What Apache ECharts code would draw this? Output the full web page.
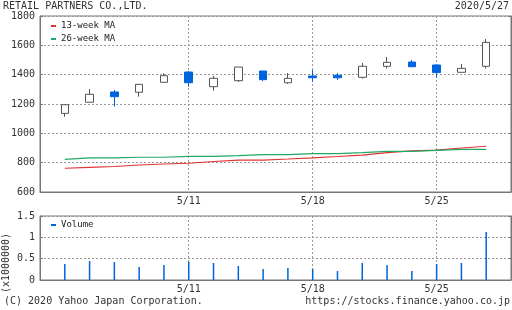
<!DOCTYPE html>
<html>
<head>
<meta charset="utf-8">
<script src="https://cdn.jsdelivr.net/npm/echarts@6/dist/echarts.min.js"></script>
<style>html,body{margin:0;padding:0;background:#fff}#c{width:512px;height:310px}</style>
</head>
<body>
<div id="c"></div>
<script>
var dates = ['4/28','4/30','5/1','5/7','5/8','5/11','5/12','5/13','5/14','5/15','5/18','5/19','5/20','5/21','5/22','5/25','5/26','5/27'];
var tickLabels = ['5/11','5/18','5/25'];
var opens  = [1136,1212,1282,1280,1348,1418,1318,1359,1425,1345,1391,1396,1382,1457,1486,1466,1416,1457];
var closes = [1195,1266,1250,1334,1393,1345,1375,1452,1366,1375,1379,1379,1457,1484,1454,1414,1443,1620];
var lows   = [1113,1212,1182,1250,1348,1318,1291,1350,1357,1338,1352,1364,1373,1441,1454,1382,1416,1441];
var highs  = [1195,1302,1295,1334,1409,1425,1391,1452,1425,1411,1432,1411,1480,1520,1500,1473,1473,1643];
var ma13   = [762,768,774,784,791,796,808,818,818,825,833,842,852,869,880,886,900,912];
var ma26   = [823,832,832,837,837,843,843,848,855,855,862,862,869,877,877,884,891,891];
var volume = [0.375,0.445,0.42,0.305,0.35,0.43,0.40,0.33,0.26,0.28,0.26,0.21,0.40,0.35,0.21,0.375,0.40,1.125];
var priceTicks = {min:600, max:1800, interval:200};
var volTicks = {min:0, max:1.5, interval:0.5};

var cats = [''].concat(dates, ['']);
function pad(a){ return ['-'].concat(a, ['-']); }
var candles = ['-'];
for (var i = 0; i < dates.length; i++) candles.push([opens[i], closes[i], lows[i], highs[i]]);
candles.push('-');

var FONT = 'DejaVu Sans Mono';
var TXT = '#333';
var AX = '#777';
var GRIDC = '#999';
var BLUE = '#0064dc';
function isTick(idx, val){ return tickLabels.indexOf(val) >= 0; }
function plain(v){ return String(v); }

function xAx(gi){
  return {
    type:'category', gridIndex:gi, data:cats, boundaryGap:false,
    axisLine:{lineStyle:{color:AX}}, axisTick:{show:false},
    axisLabel:{interval:isTick, color:TXT, fontFamily:FONT, fontSize:10, margin:4},
    splitLine:{show:true, interval:isTick, lineStyle:{color:GRIDC, type:[2,2]}}
  };
}
function yAx(gi, t, pos, labels){
  return {
    type:'value', gridIndex:gi, position:pos, min:t.min, max:t.max, interval:t.interval,
    axisLine:{show:true, lineStyle:{color:AX}},
    axisTick:{show:true, inside:true, length:3, lineStyle:{color:AX}},
    axisLabel:{show:labels, color:TXT, fontFamily:FONT, fontSize:10, margin:5, formatter:plain, showMinLabel:true, showMaxLabel:true, hideOverlap:false},
    splitLine:{show:labels, lineStyle:{color:GRIDC, type:[2,2]}}
  };
}

var chart = echarts.init(document.getElementById('c'), null, {renderer:'canvas'});
chart.setOption({
  animation:false,
  backgroundColor:'#fff',
  textStyle:{fontFamily:FONT},
  title:[
    {text:'RETAIL PARTNERS CO.,LTD.', left:3, top:1, padding:0, textStyle:{fontFamily:FONT, fontSize:10, fontWeight:'normal', color:TXT}},
    {text:'2020/5/27', right:3, top:1, padding:0, textStyle:{fontFamily:FONT, fontSize:10, fontWeight:'normal', color:TXT}},
    {text:'(C) 2020 Yahoo Japan Corporation.', left:4, top:296, padding:0, textStyle:{fontFamily:FONT, fontSize:10, fontWeight:'normal', color:TXT}},
    {text:'https://stocks.finance.yahoo.co.jp', right:2, top:296, padding:0, textStyle:{fontFamily:FONT, fontSize:10, fontWeight:'normal', color:TXT}}
  ],
  legend:[
    {data:['13-week MA','26-week MA'], orient:'vertical', left:51, top:20, padding:0, itemGap:1, itemWidth:5, itemHeight:2, icon:'rect',
     textStyle:{fontFamily:FONT, fontSize:9, color:'#222', lineHeight:12}},
    {data:['Volume'], orient:'vertical', left:51, top:219, padding:0, itemWidth:5, itemHeight:2, icon:'rect',
     textStyle:{fontFamily:FONT, fontSize:9, color:'#222', lineHeight:12}}
  ],
  graphic:[
    {type:'text', x:6, y:263, rotation:Math.PI/2, style:{text:'(x1000000)', fontFamily:FONT, fontSize:10, fill:TXT, align:'center', verticalAlign:'middle'}}
  ],
  grid:[
    {left:40, top:16, right:1, height:176, show:true, borderColor:AX, borderWidth:1, backgroundColor:'transparent'},
    {left:40, top:216, right:1, height:64, show:true, borderColor:AX, borderWidth:1, backgroundColor:'transparent'}
  ],
  xAxis:[xAx(0), xAx(1)],
  yAxis:[
    yAx(0, priceTicks, 'left', true),
    yAx(1, volTicks, 'left', true),
    yAx(0, priceTicks, 'right', false),
    yAx(1, volTicks, 'right', false)
  ],
  series:[
    {type:'candlestick', name:'Price', xAxisIndex:0, yAxisIndex:0, data:candles, barWidth:8,
     itemStyle:{color:'#fff', color0:BLUE, borderColor:'#555', borderColor0:BLUE, borderWidth:1}},
    {type:'line', name:'13-week MA', xAxisIndex:0, yAxisIndex:0, data:pad(ma13), symbol:'none', color:'#e23333',
     lineStyle:{width:1.2, color:'#e23333'}},
    {type:'line', name:'26-week MA', xAxisIndex:0, yAxisIndex:0, data:pad(ma26), symbol:'none', color:'#1fa867',
     lineStyle:{width:1.2, color:'#1fa867'}},
    {type:'bar', name:'Volume', xAxisIndex:1, yAxisIndex:1, data:pad(volume), barWidth:1.5, color:BLUE, itemStyle:{color:BLUE}}
  ]
});
</script>
</body>
</html>
